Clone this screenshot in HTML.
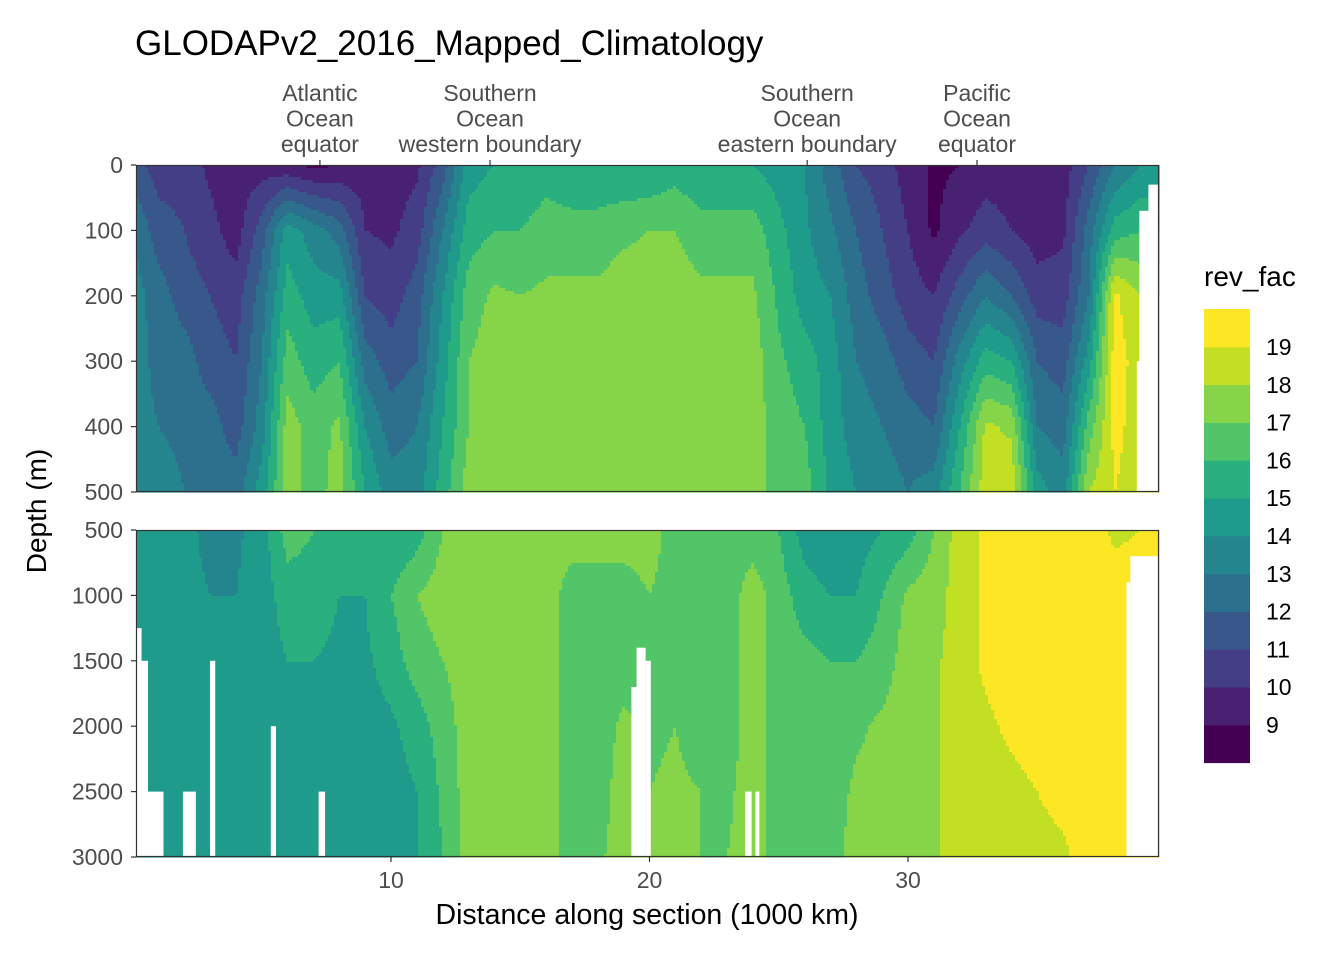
<!DOCTYPE html>
<html><head><meta charset="utf-8">
<style>
body{margin:0;background:#fff;}
svg{display:block;font-family:"Liberation Sans",sans-serif;}
</style></head>
<body>
<svg id="chart" width="1344" height="960" viewBox="0 0 1344 960" xmlns="http://www.w3.org/2000/svg">
<text x="135" y="55" font-size="35" fill="#000">GLODAPv2_2016_Mapped_Climatology</text>
<g id="topPanel"></g>
<g id="botPanel"></g>
<g id="axes"></g>
<text transform="translate(46,511) rotate(-90)" text-anchor="middle" font-size="28" fill="#000">Depth (m)</text>
<text x="647" y="924" text-anchor="middle" font-size="28.5" fill="#000">Distance along section (1000 km)</text>
<g id="legend">
<text x="1204" y="286" font-size="28" fill="#000">rev_fac</text>
</g>
</svg>
<script>
const colX = [0,1,2,3,4,5,6,7,8,9,10,11,12,13,14,15,16,17,18,19,20,21,22,23,24,25,26,27,28,29,30,31,32,33,34,35,36,37,38,39];
const topDepths = [0,100,200,300,400,500];
const topValues = [
[11.5,13,13.5,13.5,13.5,13.5],[10.5,11.5,12.5,12.7,13,14],[10.5,11,11.5,12.5,12.5,13],[9.8,10.3,11,11.5,12.5,12.5],
[9.5,9.5,10.5,11,11.5,12.5],[9.5,11.5,12.5,13,13.5,14.5],[9.2,14.5,15.5,16.5,17.5,17.5],[8.8,13.5,14.5,15.5,16.5,16.5],
[9,12.5,14.5,16,17.2,17.5],[9.5,10,11,12.5,14,15],[9.5,9.8,10.5,11.5,12.5,13.5],[9.8,10.5,11.5,12,13,13.5],
[11.5,13,14,14.5,15,15.5],[14.5,15.5,16.5,17,17,17.5],[15,16,17.2,17.5,17.5,17.5],[15,16,17,17.5,17.5,17.5],
[15.5,16.5,17.2,17.5,17.5,17.5],[15,16.5,17.2,17.5,17.5,17.5],[15,16.5,17.2,17.5,17.5,17.5],[15,16.8,17.5,17.5,17.5,17.5],
[15,17,17.5,17.5,17.5,17.5],[15.5,17,17.5,17.5,17.5,17.5],[15,16.5,17.2,17.5,17.5,17.5],[15,16.5,17.2,17.5,17.5,17.5],
[15,16.5,17.2,17.5,17.5,17.5],[14.5,15.3,15.8,16.2,16.5,16.5],[14,14.2,14.5,15.5,16,16.5],[12.5,13.2,14,14.5,14.5,14.8],
[11,12,12.5,13,13.5,14],[10.5,11,11.5,12.5,13,13.5],[9.5,10,10.5,11.5,12.5,13],[8.8,8.8,10,11,12,13.5],
[9,9.8,11.5,13.5,15,16],[9.5,10.5,13,15.5,18.2,18.6],[9.5,10,12,15,17.8,18.8],[9,9.5,10.5,12,13,14.5],
[9.5,9.8,10.5,11.5,12.5,13.5],[11,12.5,13,14.5,16.5,18],[13,15.5,19.2,19.5,19.3,19],[14,16,18,18.5,18.5,18.5]];
const botDepths = [500,1000,1500,2000,2500,3000];
const botValues = [
[14.5,14.5,14.5,14.5,14.5,14.5],[14.5,14.5,14.5,14.5,14.5,14.5],[14.2,14.2,14.5,14.5,14.5,14.5],[13.8,14,14.5,14.5,14.5,14.5],
[13.8,14,14.5,14.5,14.5,14.5],[14.5,14.5,14.5,14.5,14.5,14.5],[16.5,15.5,15,14.8,14.5,14.5],[16,15.5,15,14.8,14.5,14.5],
[15.5,15,14.8,14.5,14.5,14.5],[15,15,14.8,14.5,14.5,14.5],[15,16,15.5,14.8,14.5,14.5],[15.5,17,16.5,15.5,15,15],
[17,17.5,17,16.5,16.2,16],[17.5,17.5,17.5,17.5,17.5,17.5],[17.5,17.5,17.5,17.2,17,17],[17.5,17.5,17.5,17.5,17.5,17],
[17.5,17.5,17.5,17.5,17.5,17.5],[17.5,16.5,16.5,16.5,16.5,16.5],[17.5,16.5,16.5,16.5,16.5,16.8],[17.5,16.5,16.5,17.2,17.5,17.5],
[17.5,17,16.8,16.8,17,17.2],[16.5,16.5,16.5,17,17.2,17.2],[16.5,16.5,16.5,16.5,17,17],[16.5,16.5,16.5,16.5,16.8,17],
[16.5,17.5,17.5,17.5,17.5,17.5],[16,16.5,16.5,16.5,16.5,16.5],[14.5,15.5,16.3,16.5,16.5,16.5],[14,15,16,16.5,16.5,16.5],
[14.5,15,16,16.8,17.2,17.5],[15,16,16.5,17.2,17.5,17.5],[15.5,17.2,17.5,17.5,17.5,17.5],[17,17.5,17.8,17.8,17.8,17.8],
[18.5,18.5,18.5,18.5,18.5,18.5],[19.2,19.2,19.2,18.8,18.5,18.5],[19.5,19.5,19.5,19.2,18.7,18.5],[19.5,19.5,19.5,19.5,19,18.7],
[19.5,19.5,19.5,19.5,19.3,18.8],[19.5,19.5,19.5,19.5,19.5,19.5],[18.8,19.5,19.5,19.5,19.5,19.5],[19,19.5,19.5,19.5,19.5,19.5]];
// missing-data columns: [x0, x1, depth from which data is missing]
const naRegions = [[0.13,0.35,1250],[0.35,0.6,1500],[0.6,1.2,2500],[1.95,2.45,2500],[3.0,3.2,1500],[5.35,5.55,2000],[7.2,7.45,2500],
[19.3,19.5,1700],[19.5,19.85,1400],[19.85,20.05,1500],[23.7,23.95,2500],[24.1,24.25,2500],[38.45,38.6,900],[38.6,39.7,700],
[38.8,39.7,1500]];
const naTop = [[38.85,39.7,300],[38.95,39.7,70],[39.3,39.7,30]];
const levelLabels = ["19","18","17","16","15","14","13","12","11","10","9"];
const palette = ["#440154","#482173","#433E85","#38588C","#2D708E","#25858E","#1E9B8A","#2AB07F","#52C569","#86D549","#C2DF23","#FDE725"];

const NS="http://www.w3.org/2000/svg";
function mk(t,a,p){const e=document.createElementNS(NS,t);for(const k in a)e.setAttribute(k,a[k]);p.appendChild(e);return e;}
const X0=136,X1=1159;
const xScale=v=>132.5+25.85*v;
const xInv=p=>(p-132.5)/25.85;
const topY=d=>165+d*0.654, topInv=p=>(p-165)/0.654;
const botY=d=>530+(d-500)*0.1308, botInv=p=>500+(p-530)/0.1308;
function interp(vals,depths,x,d){
  x=Math.max(0,Math.min(colX.length-1,x));
  let i=Math.min(colX.length-2,Math.floor(x));const fx=x-i;
  let j=0;while(j<depths.length-2&&d>depths[j+1])j++;
  let fy=(d-depths[j])/(depths[j+1]-depths[j]);fy=Math.max(0,Math.min(1,fy));
  const a=vals[i][j]*(1-fy)+vals[i][j+1]*fy, b=vals[i+1][j]*(1-fy)+vals[i+1][j+1]*fy;
  return a*(1-fx)+b*fx;
}
function bin(v){let k=Math.floor(v-8);return Math.max(0,Math.min(11,k));}
function drawPanel(g,vals,depths,y0,y1,inv){
  const step=3;
  for(let py=y0;py<y1;py+=step){
    const h=Math.min(step,y1-py);const d=inv(py+h/2);
    let runStart=X0,runC=-1;
    for(let px=X0;px<=X1;px+=step){
      let c=-2;
      if(px<X1){c=bin(interp(vals,depths,xInv(px+step/2),d));}
      if(c!==runC){
        if(runC>=0){const r=mk('rect',{x:runStart,y:py,width:Math.min(px,X1)-runStart+0.6,height:h+0.6,fill:palette[runC]},g);
          
          }
        runStart=px;runC=c;
      }
    }
  }
}
const tp=document.getElementById('topPanel'),bp=document.getElementById('botPanel');
drawPanel(tp,topValues,topDepths,165,492,topInv);
drawPanel(bp,botValues,botDepths,530,857,botInv);
naRegions.forEach(n=>{const y=botY(n[2]);const r=mk('rect',{x:xScale(n[0]),y:y,width:xScale(n[1])-xScale(n[0]),height:857-y,fill:'#fff'},bp);
  
  });
naTop.forEach(n=>{const y=topY(n[2]);const r=mk('rect',{x:xScale(n[0]),y:y,width:xScale(n[1])-xScale(n[0]),height:492-y,fill:'#fff'},tp);
  
  });
const ax=document.getElementById('axes');
[[165,492],[530,857]].forEach(p=>{const r=mk('rect',{x:136.5,y:p[0]+0.5,width:1022,height:p[1]-p[0]-1,fill:'none',stroke:'#333','stroke-width':1.2},ax);
  
  });
const topTicks=[0,100,200,300,400,500], botTicks=[500,1000,1500,2000,2500,3000];
function yTicks(ticks,f){ticks.forEach(t=>{const y=f(t);
  const l=mk('line',{x1:131,x2:136,y1:y,y2:y,stroke:'#333','stroke-width':1.2},ax);
  
  
  const tx=mk('text',{x:123,y:y+8,'text-anchor':'end','font-size':23,fill:'#4D4D4D'},ax);tx.textContent=t;
  
  });}
yTicks(topTicks,topY);yTicks(botTicks,botY);
const xTicks=[10,20,30];
xTicks.forEach(t=>{const x=xScale(t);
  const l=mk('line',{x1:x,x2:x,y1:857,y2:862,stroke:'#333','stroke-width':1.2},ax);
  
  
  const tx=mk('text',{x:x,y:888,'text-anchor':'middle','font-size':23,fill:'#4D4D4D'},ax);tx.textContent=t;
  
  });
const secPos=[7.25,13.83,26.1,32.67];
const secLabels=[["Atlantic","Ocean","equator"],["Southern","Ocean","western boundary"],["Southern","Ocean","eastern boundary"],["Pacific","Ocean","equator"]];
secPos.forEach((p,i)=>{const x=xScale(p);
  const l=mk('line',{x1:x,x2:x,y1:160,y2:165,stroke:'#333','stroke-width':1.2},ax);
  
  
  secLabels[i].forEach((s,k)=>{const tx=mk('text',{x:x,y:101+k*25.5,'text-anchor':'middle','font-size':23,fill:'#4D4D4D'},ax);tx.textContent=s;
    
    });});
const lg=document.getElementById('legend');
for(let k=0;k<12;k++){const y=309+(11-k)*37.8;
  const r=mk('rect',{x:1204,y:y,width:46,height:38.3,fill:palette[k]},lg);
  
  }
levelLabels.forEach((s,i)=>{const y=347+i*37.8;
  const tx=mk('text',{x:1266,y:y+8,'font-size':23,fill:'#000'},lg);tx.textContent=s;
  
  });
</script>
</body></html>
